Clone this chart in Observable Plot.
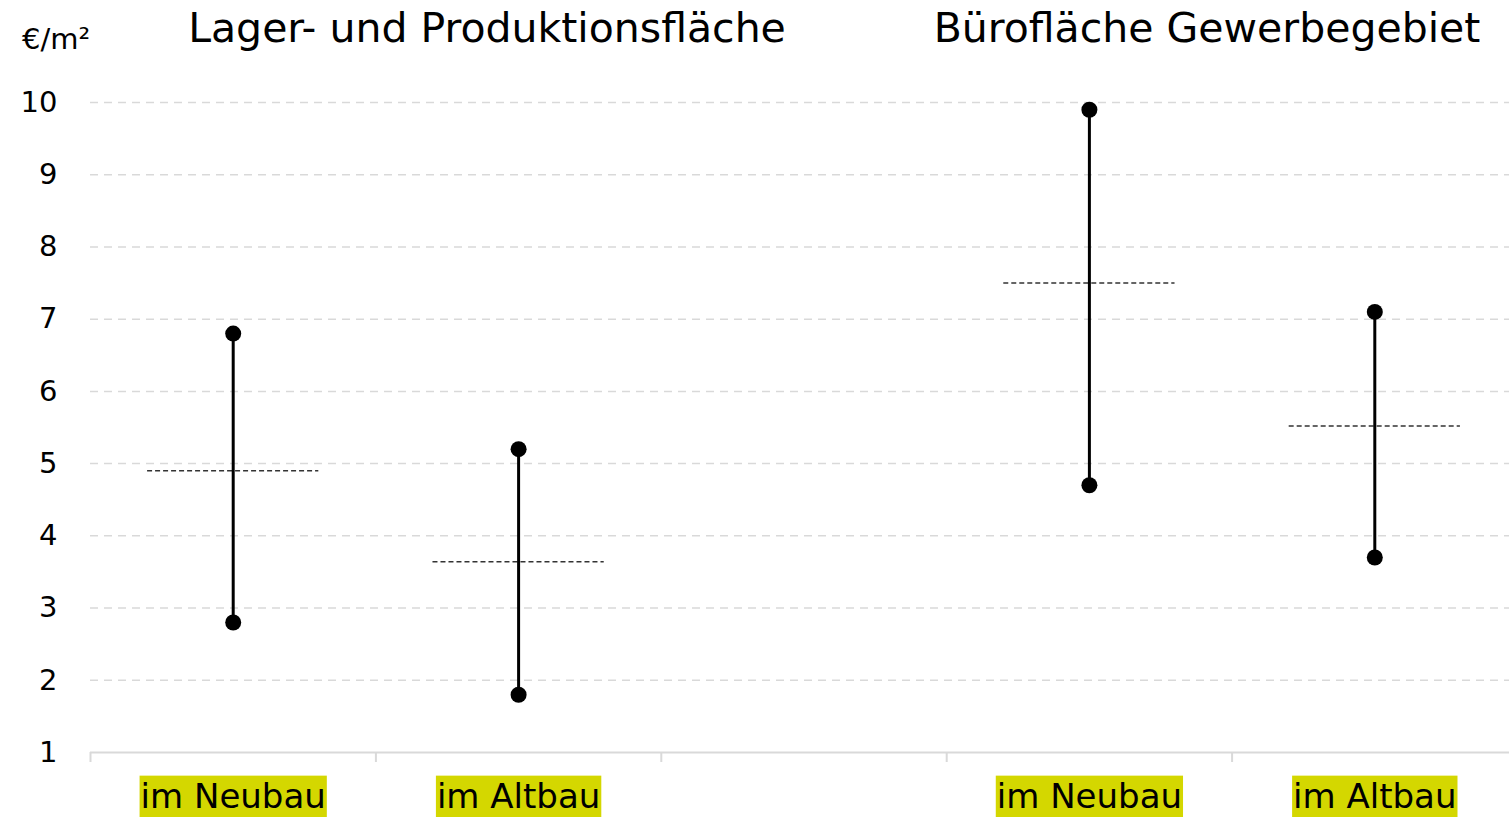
<!DOCTYPE html>
<html>
<head>
<meta charset="utf-8">
<script src="https://cdn.jsdelivr.net/npm/d3@7"></script>
<script src="https://cdn.jsdelivr.net/npm/@observablehq/plot@0.6"></script>
<style>
  html, body { margin: 0; padding: 0; background: #fff; overflow: hidden; }
  #wrap { position: relative; width: 1509px; height: 817px; overflow: hidden; font-family: "DejaVu Sans", sans-serif; }
  #wrap svg { max-width: none !important; }
  .title { position: absolute; top: 8px; width: 800px; text-align: center; font-size: 41px; line-height: 1; color: #000; white-space: nowrap; }
  .unit { position: absolute; left: 22px; top: 25px; font-size: 29px; line-height: 1; color: #000; }
</style>
</head>
<body>
<div id="wrap"></div>
<script>
// ---- data ----
const labels = ["im Neubau", "im Altbau", "im Neubau", "im Altbau"];
const slots = [0, 1, 3, 4];            // category slot on the x axis (slot 2 is an empty gap)
const minValues = [2.8, 1.8, 4.7, 3.7];
const maxValues = [6.8, 5.2, 9.9, 7.1];
const meanValues = [4.9, 3.64, 7.5, 5.52];
const groupTitles = ["Lager- und Produktionsfläche", "Bürofläche Gewerbegebiet"];
const yTicks = [1, 2, 3, 4, 5, 6, 7, 8, 9, 10];
const slotEdges = [0, 1, 2, 3, 4, 5];
const unitLabel = "€/m²";

const data = labels.map((l, i) => ({
  label: l, slot: slots[i], xc: slots[i] + 0.5,
  min: minValues[i], max: maxValues[i], mean: meanValues[i]
}));

const plot = Plot.plot({
  width: 1517,
  height: 817,
  marginLeft: 90,
  marginRight: 0,
  marginTop: 102,
  marginBottom: 65,
  style: { fontFamily: "DejaVu Sans, sans-serif", background: "#fff", color: "#000", maxWidth: "none" },
  x: { domain: [0, 5] },
  y: { domain: [1, 10] },
  marks: [
    Plot.gridY({ ticks: yTicks.filter(t => t > 1), stroke: "#d9d9d9", strokeOpacity: 1, strokeWidth: 1.5, strokeDasharray: "8,6" }),
    Plot.axisY({ ticks: yTicks, tickSize: 0, tickPadding: 33, fontSize: 29, tickFormat: d => String(d), label: null }),
    Plot.ruleY([1], { stroke: "#d9d9d9", strokeWidth: 2 }),
    Plot.axisX({ ticks: slotEdges, tickSize: 10, stroke: "#d9d9d9", strokeWidth: 2, tickFormat: () => "", label: null }),
    Plot.axisX({ ticks: data.map(d => d.xc), tickSize: 0, tickPadding: 31, fontSize: 34, ariaLabel: "category labels",
      tickFormat: v => { const d = data.find(e => Math.abs(e.xc - v) < 1e-9); return d ? d.label : ""; }, label: null }),
    Plot.ruleY(data, { y: "mean", x1: d => d.slot + 0.2, x2: d => d.slot + 0.8, stroke: "#333", strokeWidth: 1.5, strokeDasharray: "5,3" }),
    Plot.ruleX(data, { x: "xc", y1: "min", y2: "max", stroke: "#000", strokeWidth: 3 }),
    Plot.dot(data, { x: "xc", y: "max", r: 8, fill: "#000" }),
    Plot.dot(data, { x: "xc", y: "min", r: 8, fill: "#000" })
  ]
});

const wrap = document.getElementById("wrap");
wrap.appendChild(plot);

// titles and unit label
const centers = [487, 1207];
groupTitles.forEach((t, i) => {
  const div = document.createElement("div");
  div.className = "title";
  div.style.left = (centers[i] - 400) + "px";
  div.textContent = t;
  wrap.appendChild(div);
});
const u = document.createElement("div");
u.className = "unit";
u.textContent = unitLabel;
wrap.appendChild(u);

// highlight backgrounds behind category labels
const svgNS = "http://www.w3.org/2000/svg";
plot.querySelectorAll("text").forEach(t => {
  if (!labels.includes(t.textContent)) return;
  const bb = t.getBBox();
  const r = document.createElementNS(svgNS, "rect");
  r.setAttribute("x", bb.x - 1);
  r.setAttribute("y", bb.y);
  r.setAttribute("width", bb.width + 2);
  r.setAttribute("height", bb.height + 20);
  r.setAttribute("fill", "#d4d700");
  const tr = t.getAttribute("transform");
  if (tr) r.setAttribute("transform", tr);
  t.parentNode.insertBefore(r, t);
});
</script>
</body>
</html>
